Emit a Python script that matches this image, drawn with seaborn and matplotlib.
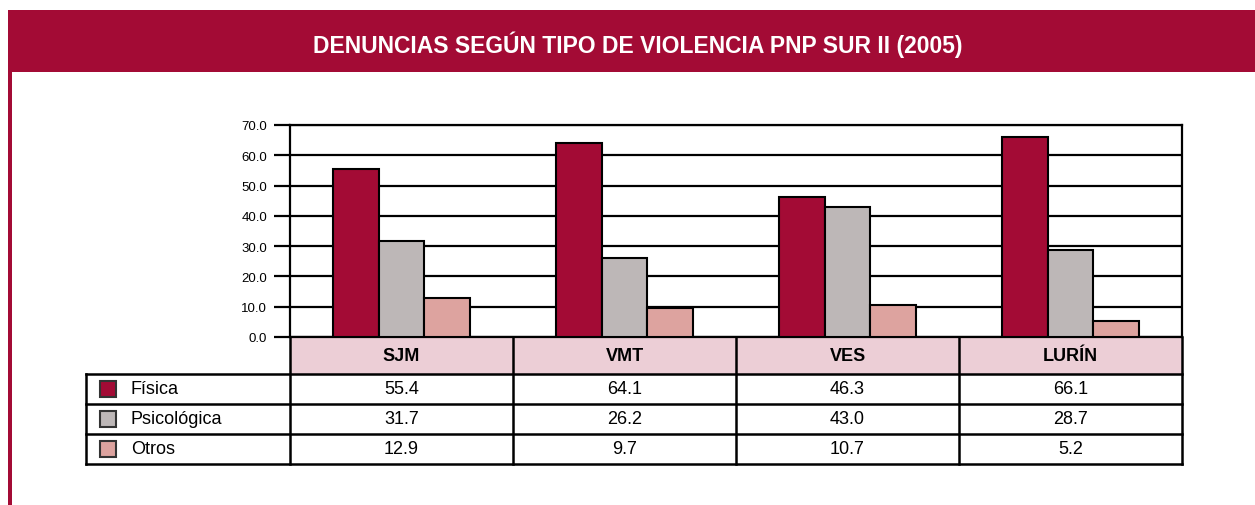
import pandas as pd
import seaborn as sns
import matplotlib.pyplot as plt
from matplotlib.patches import Rectangle
from matplotlib.transforms import blended_transform_factory

zonas = ['SJM', 'VMT', 'VES', 'LURÍN']
tipos = ['Física', 'Psicológica', 'Otros']
fisica = [55.4, 64.1, 46.3, 66.1]
psicologica = [31.7, 26.2, 43.0, 28.7]
otros = [12.9, 9.7, 10.7, 5.2]
yticks = [0, 10, 20, 30, 40, 50, 60, 70]
titulo = 'DENUNCIAS SEGÚN TIPO DE VIOLENCIA PNP SUR II (2005)'

colores = ['#A30B35', '#BDB7B7', '#DDA39F']
rojo = '#A30B35'
rosa = '#ECCED6'

sns.set_theme(style='white')
plt.rcParams['font.family'] = ['Liberation Sans', 'DejaVu Sans']

W, H = 1255, 506
fig = plt.figure(figsize=(W / 100, H / 100), dpi=100)

# capa de fondo en pixeles: banda del titulo, borde y tabla
over = fig.add_axes([0, 0, 1, 1], zorder=0)
over.set_xlim(0, W)
over.set_ylim(H, 0)
over.axis('off')

over.add_patch(Rectangle((8, 11), W - 8, 62, color=rojo, lw=0))
over.add_patch(Rectangle((8, 73), 4, H - 73, color=rojo, lw=0))
over.text(638, 45, titulo, color='white', fontsize=16.5, fontweight='bold',
          ha='center', va='center')

# grafico de barras
x0, x1, ytop, ybot = 290, 1182, 126, 338
ax = fig.add_axes([x0 / W, (H - ybot) / H, (x1 - x0) / W, (ybot - ytop) / H], zorder=2)

df = pd.DataFrame({
    'zona': zonas * 3,
    'tipo': [t for t in tipos for _ in zonas],
    'valor': fisica + psicologica + otros,
})
sns.barplot(data=df, x='zona', y='valor', hue='tipo', hue_order=tipos,
            palette=colores, saturation=1, width=0.61, edgecolor='black',
            linewidth=1.5, legend=False, ax=ax, zorder=3)

ax.set_ylim(0, 70)
ax.set_xlim(-0.5, len(zonas) - 0.5)
ax.set_yticks(yticks)
ax.set_yticklabels(['%.1f' % v for v in yticks], fontsize=9.5)
ax.set_xticks([])
ax.set_xlabel('')
ax.set_ylabel('')
ax.yaxis.grid(True, color='black', lw=1.6)
ax.set_axisbelow(True)
ax.tick_params(axis='y', direction='out', length=11.5, width=1.6, color='black',
               left=True, pad=5, labelcolor='black')
for s in ax.spines.values():
    s.set_color('black')
    s.set_linewidth(1.6)
    s.set_visible(True)

# tabla de datos bajo el grafico
tr = blended_transform_factory(ax.transData, over.transData)
bordes = [i - 0.5 for i in range(len(zonas) + 1)]
y_head, y_rows = 338, [375, 405, 435, 465]

over.add_patch(Rectangle((bordes[0], y_head), bordes[-1] - bordes[0], y_rows[0] - y_head,
                         transform=tr, color=rosa, lw=0, zorder=1))
for i, z in enumerate(zonas):
    over.text(i, (y_head + y_rows[0]) / 2, z, transform=tr, ha='center', va='center',
              fontsize=13, fontweight='bold', color='black')

lw = 1.8
for b in bordes:
    over.plot([b, b], [y_head, y_rows[-1]], transform=tr, color='black', lw=lw,
              solid_capstyle='projecting', zorder=3)
x_leg = 86
for y in y_rows:
    over.plot([x_leg, x1], [y, y], color='black', lw=lw, zorder=3,
              solid_capstyle='projecting')
over.plot([x_leg, x_leg], [y_rows[0], y_rows[-1]], color='black', lw=lw, zorder=3,
          solid_capstyle='projecting')

series = [fisica, psicologica, otros]
for r, (t, vals, c) in enumerate(zip(tipos, series, colores)):
    yc = (y_rows[r] + y_rows[r + 1]) / 2
    over.add_patch(Rectangle((100, yc - 8), 16, 16, facecolor=c, edgecolor='#333333',
                             lw=1.5, zorder=3))
    over.text(131, yc, t, ha='left', va='center', fontsize=13, color='black')
    for i, v in enumerate(vals):
        over.text(i, yc, '%.1f' % v, transform=tr, ha='center', va='center',
                  fontsize=13, color='black')

fig.savefig('out.png', dpi=100)
